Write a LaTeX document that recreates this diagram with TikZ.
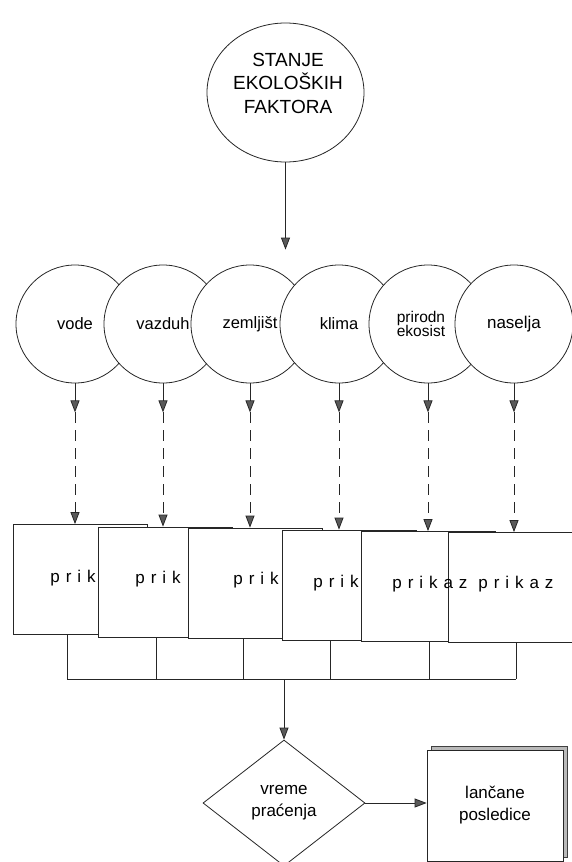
\documentclass[tikz,border=0pt]{standalone}
\usepackage{fontspec}
\setmainfont{Liberation Sans}
\newfontfamily\razmak[LetterSpace=35]{Liberation Sans}
\usetikzlibrary{shapes.geometric}
\usetikzlibrary{arrows.meta}
\usetikzlibrary{shadows}

\begin{document}
\begin{tikzpicture}[x=1pt, y=-1pt, line width=0.8pt, draw=black!85,
	krug/.style={circle, draw, fill=white, minimum size=118pt, inner sep=0pt, font=\fontsize{16.5}{18}\selectfont},
	prozor/.style={rectangle, draw, fill=white, minimum width=134pt, minimum height=110pt},
	natpis/.style={anchor=base west, inner sep=0pt, font=\razmak\fontsize{17}{20}\selectfont},
	strelica/.style={-{Triangle[length=12pt, width=9pt, fill=gray!70!black]}}]
			\useasboundingbox (0,0) rectangle (572,862);
			\clip (0,0) rectangle (572,862);
			% Nodes
			\node[ellipse, draw, fill=white, minimum width=157pt, minimum height=139pt] (stanje) at (285.5,92.5) {};
			\node[align=center, font=\fontsize{19}{23.5}\selectfont] (naslov) at (288,83) {STANJE\\EKOLOŠKIH\\FAKTORA};
			\node[krug] (vode) at (75,324) {vode};
			\node[krug] (vazduh) at (163,324) {vazduh};
			\node[krug] (zemljiste) at (250,324) {zemljišt};
			\node[krug] (klima) at (339,324) {klima};
			\node[krug, label={[align=left, font=\fontsize{15.5}{14.5}\selectfont, xshift=-7pt]center:{prirodn\\ekosist}}] (priroda) at (428,324) {};
			\node[krug, font=\fontsize{17}{19}\selectfont] (naselja) at (514,324) {naselja};
			\node[prozor] (p1) at (80,579.5) {};
			\node[prozor] (p2) at (165,582) {};
			\node[prozor] (p3) at (255.5,583) {};
			\node[prozor] (p4) at (349,585) {};
			\node[prozor] (p5) at (428,586.5) {};
			\node[prozor] (p6) at (515,587.5) {};
			\node[natpis] (t1) at (50,582) {prik};
			\node[natpis] (t2) at (135,583) {prik};
			\node[natpis] (t3) at (233,584) {prik};
			\node[natpis] (t4) at (313,587) {prik};
			\node[natpis] (t5) at (392,588) {prikaz};
			\node[natpis] (t6) at (478,588) {prikaz};
			\node[diamond, draw, fill=white, minimum width=162pt, minimum height=126pt, inner sep=0pt, align=center, font=\fontsize{17}{22}\selectfont] (vreme) at (284,803) {vreme\\praćenja};
			\node[rectangle, draw, fill=white, minimum width=136pt, minimum height=111pt, align=center, font=\fontsize{17}{22}\selectfont,
				copy shadow={shadow xshift=4pt, shadow yshift=4pt, fill=gray!55, draw=gray!50!black}] (lanac) at (495,805.5) {lančane\\posledice};
			% Points on the way down
			\coordinate (s1) at ([yshift=-29pt]vode.south);
			\coordinate (s2) at ([yshift=-29pt]vazduh.south);
			\coordinate (s3) at ([yshift=-29pt]zemljiste.south);
			\coordinate (s4) at ([yshift=-29pt]klima.south);
			\coordinate (s5) at ([yshift=-29pt]priroda.south);
			\coordinate (s6) at ([yshift=-29pt]naselja.south);
			\coordinate (b1) at (67,679);
			\coordinate (b2) at (156,679);
			\coordinate (b3) at (243,679);
			\coordinate (b4) at (330,679);
			\coordinate (b5) at (429,679);
			\coordinate (b6) at (516,679);
			\coordinate (j) at (284,679);
			% Edges
			\draw[strelica] (stanje) -- ([yshift=15pt]vazduh.north -| stanje);
			\draw[strelica] (vode) -- (s1);
			\draw[strelica] (vazduh) -- (s2);
			\draw[strelica] (zemljiste) -- (s3);
			\draw[strelica] (klima) -- (s4);
			\draw[strelica] (priroda) -- (s5);
			\draw[strelica] (naselja) -- (s6);
			\draw[strelica, dash pattern=on 11pt off 7pt] (s1) -- (s1 |- p1.north);
			\draw[strelica, dash pattern=on 11pt off 7pt] (s2) -- (s2 |- p2.north);
			\draw[strelica, dash pattern=on 11pt off 7pt] (s3) -- (s3 |- p3.north);
			\draw[strelica, dash pattern=on 11pt off 7pt] (s4) -- (s4 |- p4.north);
			\draw[strelica, dash pattern=on 11pt off 7pt] (s5) -- (s5 |- p5.north);
			\draw[strelica, dash pattern=on 11pt off 7pt] (s6) -- (s6 |- p6.north);
			\draw (p1.south -| b1) -- (b1);
			\draw (p2.south -| b2) -- (b2);
			\draw (p3.south -| b3) -- (b3);
			\draw (p4.south -| b4) -- (b4);
			\draw (p5.south -| b5) -- (b5);
			\draw (p6.south -| b6) -- (b6);
			\draw (b1) -- (b6);
			\draw[strelica] (j) -- (vreme);
			\draw[strelica] (vreme.east) -- (vreme.east -| lanac.west);
		\end{tikzpicture}
\end{document}
